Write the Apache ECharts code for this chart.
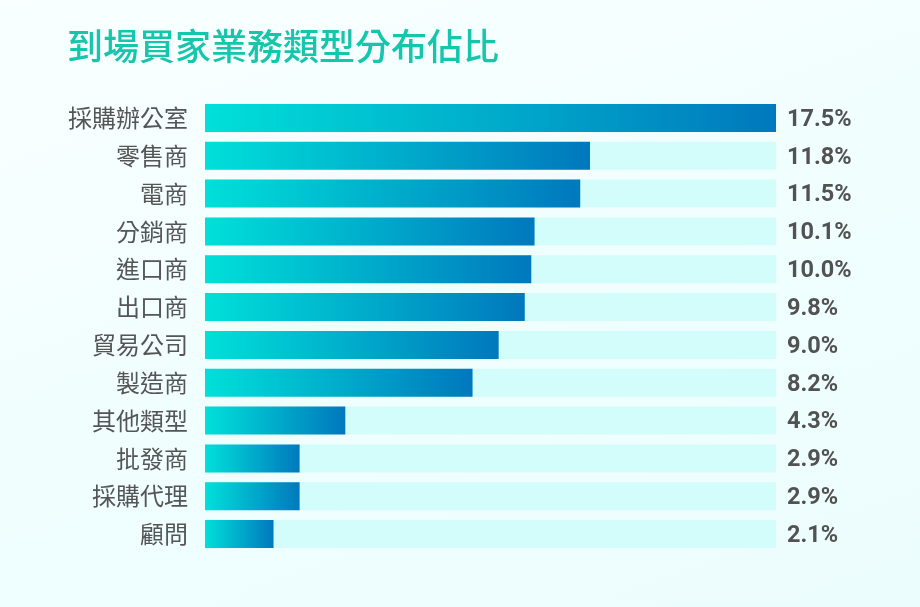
<!DOCTYPE html>
<html lang="zh-Hant">
<head>
    <meta charset="UTF-8">
    <title>到場買家業務類型分布佔比</title>
    <script src="https://cdn.jsdelivr.net/npm/echarts@6.0.0/dist/echarts.min.js"></script>
    <style>
        html, body { margin: 0; padding: 0; }
        #main {
            width: 920px;
            height: 607px;
            background: linear-gradient(160deg, #f9ffff 0%, #effefe 60%, #ecfdfd 100%);
        }
    </style>
</head>
<body>
    <div id="main"></div>
    <script>
        var categories = ['採購辦公室', '零售商', '電商', '分銷商', '進口商', '出口商', '貿易公司', '製造商', '其他類型', '批發商', '採購代理', '顧問'];
        var values = [17.5, 11.8, 11.5, 10.1, 10.0, 9.8, 9.0, 8.2, 4.3, 2.9, 2.9, 2.1];
        var maxValue = 17.5;

        var chart = echarts.init(document.getElementById('main'));

        var option = {
            title: {
                text: '到場買家業務類型分布佔比',
                left: 62,
                top: 23,
                textStyle: {
                    fontFamily: 'Noto Sans CJK TC',
                    fontSize: 36,
                    fontWeight: 500,
                    color: '#16c6ac'
                }
            },
            grid: {
                left: 205,
                top: 99,
                width: 571,
                height: 454
            },
            xAxis: {
                type: 'value',
                min: 0,
                max: maxValue,
                show: false
            },
            yAxis: {
                type: 'category',
                data: categories,
                inverse: true,
                axisLine: { show: false },
                axisTick: { show: false },
                axisLabel: {
                    margin: 17,
                    fontFamily: 'Noto Sans CJK TC',
                    fontSize: 24,
                    color: '#555555'
                }
            },
            series: [
                {
                    type: 'bar',
                    barWidth: 28,
                    barGap: '-100%',
                    silent: true,
                    data: categories.map(function () { return maxValue; }),
                    itemStyle: { color: '#d3fdfb' },
                    label: {
                        show: true,
                        position: 'right',
                        distance: 11,
                        offset: [0, 2],
                        fontFamily: 'Roboto',
                        fontWeight: 'bold',
                        fontSize: 23.5,
                        color: '#525252',
                        formatter: function (p) {
                            return values[p.dataIndex].toFixed(1) + '%';
                        }
                    },
                    z: 1
                },
                {
                    type: 'bar',
                    barWidth: 28,
                    data: values,
                    itemStyle: {
                        color: new echarts.graphic.LinearGradient(0, 0, 1, 0, [
                            { offset: 0, color: '#00e0d9' },
                            { offset: 1, color: '#0078bd' }
                        ])
                    },
                    z: 2
                }
            ]
        };

        chart.setOption(option);
    </script>
</body>
</html>
